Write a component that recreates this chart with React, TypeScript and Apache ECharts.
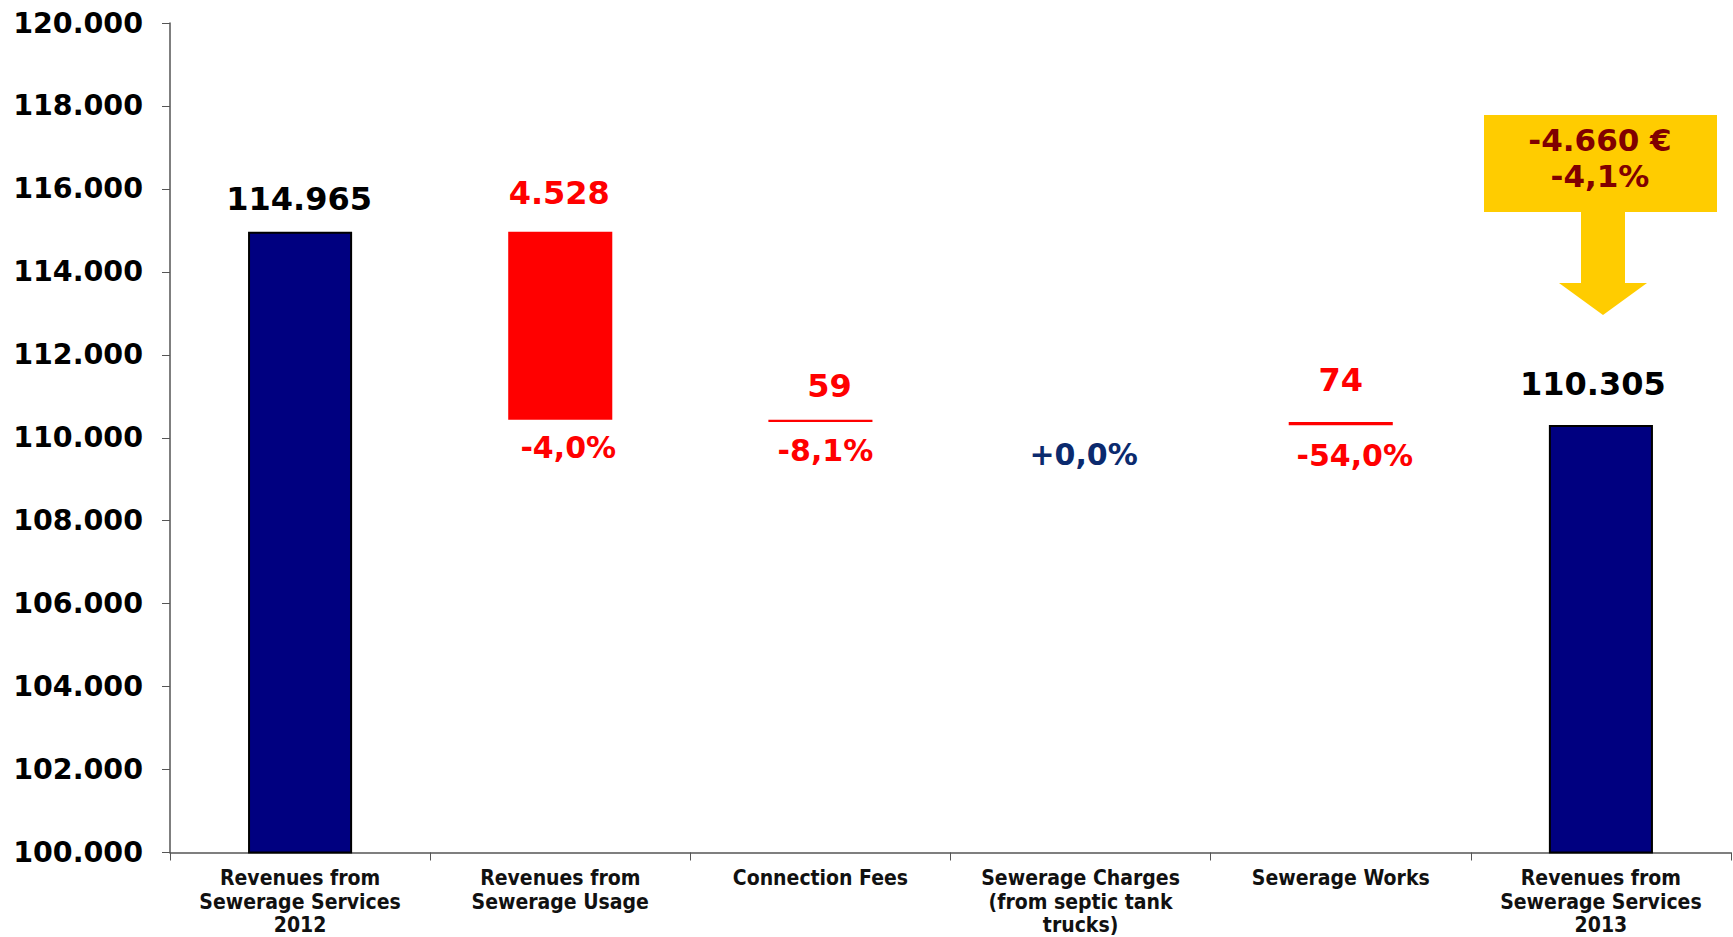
import React, { useEffect, useRef } from "react";
import * as echarts from "echarts";

const categories = [
  "Revenues from\nSewerage Services\n2012",
  "Revenues from\nSewerage Usage",
  "Connection Fees",
  "Sewerage Charges\n(from septic tank\ntrucks)",
  "Sewerage Works",
  "Revenues from\nSewerage Services\n2013",
];
const startTotal = 114965;
const changes = [4528, 59, 0, 74]; // decreases
const endTotal = 110305;
const valueLabels = ["114.965", "4.528", "59", "", "74", "110.305"];
const pctLabels = ["", "-4,0%", "-8,1%", "+0,0%", "-54,0%", ""];
const pctColors = ["", "#FF0000", "#FF0000", "#0B2A6E", "#FF0000", ""];
const yTicks = { min: 100000, max: 120000, interval: 2000 };
const totalLabel = ["-4.660 €", "-4,1%"];

const NAVY = "#000080";
const RED = "#FF0000";

// label fine-tuning (pixels)
const valueLabelDistance = [17, 23, 18, 0, 26, 25];
const valueLabelOffsets: [number, number][] = [[-1, 0], [-1, 0], [9, 0], [0, 0], [0, 0], [-8, 0]];
const pctOffsets: [number, number][] = [[0, 0], [8, 0], [5, 0], [3, 4], [14, 2], [0, 0]];

export default function App() {
  const ref = useRef<HTMLDivElement>(null);
  useEffect(() => {
    if (!ref.current) return;
    const chart = echarts.init(ref.current, undefined, { renderer: "svg" });

    const base: number[] = [0];
    const vals: number[] = [startTotal];
    let running = startTotal;
    changes.forEach((c) => {
      running -= c;
      base.push(running);
      vals.push(c);
    });
    base.push(0);
    vals.push(endTotal);

    const isTotal = (i: number) => i === 0 || i === categories.length - 1;

    const valueFont = "'DejaVu Sans', Verdana, sans-serif";

    chart.setOption({
      animation: false,
      backgroundColor: "#fff",
      grid: { left: 170, right: 2, top: 23, bottom: 84, containLabel: false },
      xAxis: {
        type: "category",
        data: categories,
        axisLine: { lineStyle: { color: "#555", width: 1.5 } },
        axisTick: { show: true, length: 8, alignWithLabel: false, lineStyle: { color: "#555" } },
        axisLabel: {
          interval: 0,
          margin: 14,
          color: "#111",
          fontFamily: "'DejaVu Sans Condensed', 'Liberation Sans Narrow', sans-serif",
          fontWeight: "bold",
          fontSize: 21,
          lineHeight: 23.5,
        },
      },
      yAxis: {
        type: "value",
        min: yTicks.min,
        max: yTicks.max,
        interval: yTicks.interval,
        splitLine: { show: false },
        axisLine: { show: true, lineStyle: { color: "#555", width: 1.5 } },
        axisTick: { show: true, length: 8, lineStyle: { color: "#555" } },
        axisLabel: {
          margin: 27,
          color: "#000",
          fontFamily: valueFont,
          fontWeight: "bold",
          fontSize: 28.5,
          formatter: (v: number) => {
            const s = String(Math.round(v));
            return s.slice(0, s.length - 3) + "." + s.slice(-3);
          },
        },
      },
      series: [
        {
          type: "bar",
          stack: "w",
          barWidth: "40%",
          silent: true,
          itemStyle: { color: "transparent" },
          data: base.map((b, i) => ({
            value: b,
            label: {
              show: !isTotal(i),
              position: "insideTop",
              distance: 13,
              offset: pctOffsets[i],
              formatter: pctLabels[i],
              color: pctColors[i],
              fontFamily: valueFont,
              fontWeight: "bold",
              fontSize: 30,
            },
          })),
        },
        {
          type: "bar",
          stack: "w",
          barWidth: "40%",
          data: vals.map((v, i) => ({
            value: v,
            itemStyle: isTotal(i)
              ? { color: NAVY, borderColor: "#000", borderWidth: 2 }
              : { color: RED },
            label: {
              show: valueLabels[i] !== "",
              position: "top",
              distance: valueLabelDistance[i],
              offset: valueLabelOffsets[i],
              formatter: valueLabels[i],
              color: isTotal(i) ? "#000" : RED,
              fontFamily: valueFont,
              fontWeight: "bold",
              fontSize: 32,
            },
          })),
        },
      ],
      graphic: [
        {
          type: "rect",
          shape: { x: 1484, y: 115, width: 233, height: 97 },
          style: { fill: "#FFCC00" },
        },
        {
          type: "polygon",
          shape: {
            points: [
              [1581, 211],
              [1625, 211],
              [1625, 283],
              [1647, 283],
              [1603, 315],
              [1559, 283],
              [1581, 283],
            ],
          },
          style: { fill: "#FFCC00" },
        },
        {
          type: "text",
          x: 1600,
          y: 140,
          style: {
            text: totalLabel[0],
            fill: "#800000",
            font: "bold 31px 'DejaVu Sans', Verdana, sans-serif",
            textAlign: "center",
            textVerticalAlign: "middle",
          },
        },
        {
          type: "text",
          x: 1600,
          y: 176,
          style: {
            text: totalLabel[1],
            fill: "#800000",
            font: "bold 31px 'DejaVu Sans', Verdana, sans-serif",
            textAlign: "center",
            textVerticalAlign: "middle",
          },
        },
      ],
    });
    const onResize = () => chart.resize();
    window.addEventListener("resize", onResize);
    return () => {
      window.removeEventListener("resize", onResize);
      chart.dispose();
    };
  }, []);
  return (
    <div
      ref={ref}
      style={{ position: "fixed", left: 0, top: 0, width: "1733px", height: "937px", background: "#fff" }}
    />
  );
}
